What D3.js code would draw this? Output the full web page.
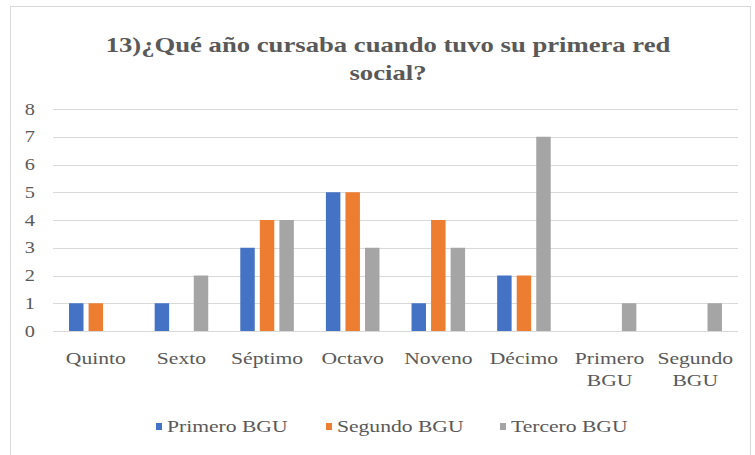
<!DOCTYPE html>
<html>
<head>
<meta charset="utf-8">
<script src="https://cdn.jsdelivr.net/npm/d3@7"></script>
<style>
  body { margin: 0; background: #fff; }
</style>
</head>
<body>
<div id="chart"></div>
<script>
// chart data
var categories = ["Quinto", "Sexto", "Séptimo", "Octavo", "Noveno", "Décimo", "Primero BGU", "Segundo BGU"];
var series = ["Primero BGU", "Segundo BGU", "Tercero BGU"];
var primeroBGU = [1, 1, 3, 5, 1, 2, 0, 0];
var segundoBGU = [1, 0, 4, 5, 4, 2, 0, 0];
var terceroBGU = [0, 2, 4, 3, 3, 7, 1, 1];
var yTicks = [0, 1, 2, 3, 4, 5, 6, 7, 8];
var titleLines = ["13)¿Qué año cursaba cuando tuvo su primera red", "social?"];

var values = [primeroBGU, segundoBGU, terceroBGU];
var colors = d3.scaleOrdinal().domain(series).range(["#4472C4", "#ED7D31", "#A5A5A5"]);

var svg_dx = 755, svg_dy = 455;
var margin = {top: 109, right: 17, bottom: 124, left: 53};
var font = "'Liberation Serif', 'Times New Roman', serif";
// the original text looks stretched sideways, so scale text horizontally
var sx = 1.27;

var svg = d3.select("#chart").append("svg")
  .attr("width", svg_dx)
  .attr("height", svg_dy);

// chart frame
svg.append("rect")
  .attr("x", 10.5).attr("y", 6.5)
  .attr("width", 740).attr("height", 460)
  .attr("fill", "#fff")
  .attr("stroke", "#d9d9d9");

var x0 = d3.scaleBand().domain(categories).range([margin.left, svg_dx - margin.right]);
var x1 = d3.scaleBand().domain(series).range([0, x0.bandwidth()])
  .paddingInner(0.26).paddingOuter(0.82);
var y = d3.scaleLinear().domain([0, 8]).range([svg_dy - margin.bottom, margin.top]);

// gridlines
svg.append("g").selectAll("line")
  .data(yTicks)
  .enter().append("line")
  .attr("x1", margin.left).attr("x2", svg_dx - margin.right)
  .attr("y1", d => Math.round(y(d)) + 0.5).attr("y2", d => Math.round(y(d)) + 0.5)
  .attr("stroke", "#d9d9d9").attr("stroke-width", 1);

// y axis labels
svg.append("g").selectAll("text")
  .data(yTicks)
  .enter().append("text")
  .attr("transform", d => "translate(35," + (y(d) + 5.5) + ") scale(" + sx + ",1)")
  .attr("text-anchor", "end")
  .style("font-family", font)
  .attr("font-size", 16)
  .attr("fill", "#595959")
  .text(d => d);

// bars
var groups = svg.append("g").selectAll("g")
  .data(categories)
  .enter().append("g")
  .attr("transform", d => "translate(" + x0(d) + ",0)");

groups.selectAll("rect")
  .data((c, i) => series.map((s, j) => ({s: s, v: values[j][i]})))
  .enter().append("rect")
  .attr("x", d => x1(d.s))
  .attr("width", x1.bandwidth())
  .attr("y", d => y(d.v))
  .attr("height", d => y(0) - y(d.v))
  .attr("fill", d => colors(d.s));

// x axis labels, two-word labels wrap
var xl = svg.append("g").selectAll("text")
  .data(categories)
  .enter().append("text")
  .attr("transform", d => "translate(" + (x0(d) + x0.bandwidth() / 2) + ",364) scale(" + sx + ",1)")
  .attr("text-anchor", "middle")
  .style("font-family", font)
  .attr("font-size", 17)
  .attr("fill", "#595959");
xl.each(function(d) {
  var words = d.split(" ");
  var t = d3.select(this);
  words.forEach((w, i) => {
    t.append("tspan").attr("x", 0).attr("dy", i ? 22 : 0).text(w);
  });
});

// title
svg.append("g").selectAll("text")
  .data(titleLines)
  .enter().append("text")
  .attr("transform", (d, i) => "translate(388," + (52 + i * 28) + ") scale(" + sx + ",1)")
  .attr("text-anchor", "middle")
  .style("font-family", font)
  .attr("font-size", 21)
  .attr("font-weight", "bold")
  .attr("fill", "#595959")
  .text(d => d);

// legend
var legendX = [156, 326, 500];
var legend = svg.append("g").selectAll("g")
  .data(series)
  .enter().append("g")
  .attr("transform", (d, i) => "translate(" + legendX[i] + ",0)");
legend.append("rect")
  .attr("x", 0).attr("y", 423)
  .attr("width", 6).attr("height", 7)
  .attr("fill", d => colors(d));
legend.append("text")
  .attr("transform", "translate(11,432) scale(" + sx + ",1)")
  .style("font-family", font)
  .attr("font-size", 17)
  .attr("fill", "#595959")
  .text(d => d);
</script>
</body>
</html>
